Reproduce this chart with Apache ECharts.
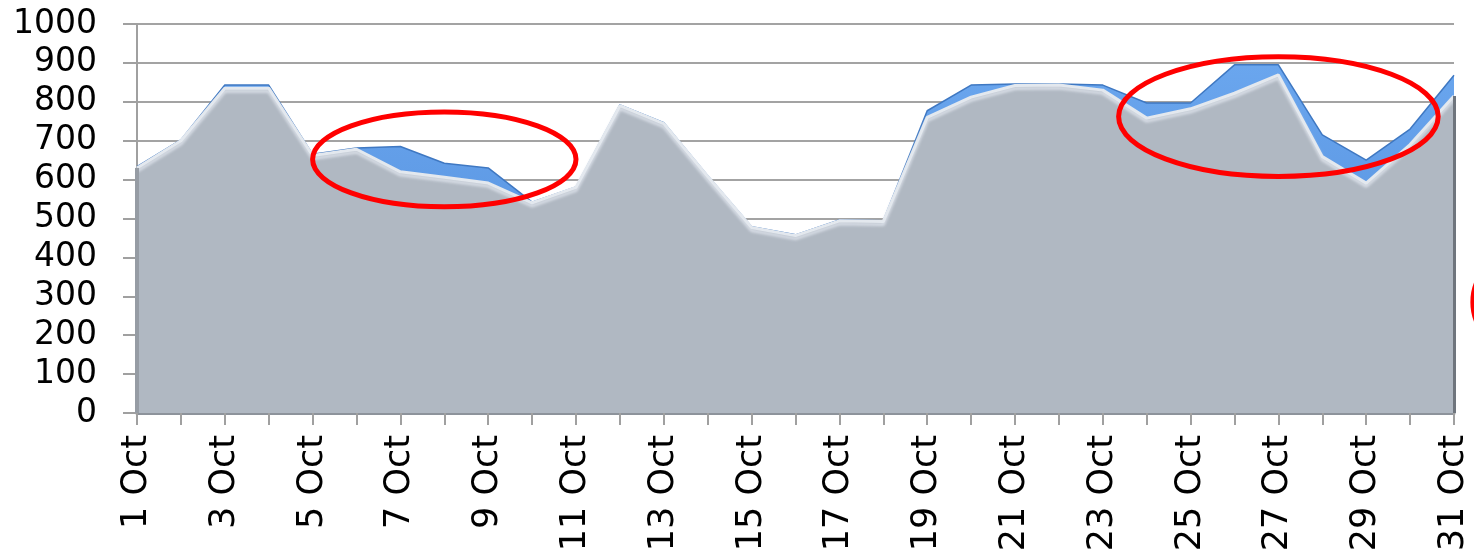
<!DOCTYPE html>
<html>
<head>
<meta charset="utf-8">
<script src="https://cdn.jsdelivr.net/npm/echarts@6/dist/echarts.min.js"></script>
<style>
  html, body { margin: 0; padding: 0; background: #ffffff; }
  #chart { width: 1474px; height: 557px; }
</style>
</head>
<body>
<div id="chart"></div>
<script>
// ---- data ----
const categories = ['1 Oct','2 Oct','3 Oct','4 Oct','5 Oct','6 Oct','7 Oct','8 Oct','9 Oct','10 Oct',
  '11 Oct','12 Oct','13 Oct','14 Oct','15 Oct','16 Oct','17 Oct','18 Oct','19 Oct','20 Oct',
  '21 Oct','22 Oct','23 Oct','24 Oct','25 Oct','26 Oct','27 Oct','28 Oct','29 Oct','30 Oct','31 Oct'];
const blueValues = [633, 702, 843, 843, 665, 681, 685, 642, 630, 542, 581, 792, 746, 610, 479, 458, 496, 494,
  777, 843, 846, 846, 843, 797, 797, 895, 895, 715, 650, 730, 868];
const grayValues = [630, 700, 835, 835, 662, 678, 620, 606, 591, 540, 580, 790, 744, 608, 477, 456, 494, 492,
  760, 812, 842, 843, 830, 758, 782, 822, 869, 659, 591, 690, 815];
const yTicks = { min: 0, max: 1000, interval: 100 };
// annotation ellipses in data units: [centre category index, centre value, half-width in days, half-height in value]
const annotations = [
  [7, 652, 3.0, 122],
  [26, 762, 3.64, 154],
  [31.57, 285, 1.14, 128]
];

const chart = echarts.init(document.getElementById('chart'), null, { renderer: 'canvas' });
const FONT = 'DejaVu Sans';
const option = {
  animation: false,
  backgroundColor: '#ffffff',
  grid: { left: 137, right: 20, top: 24, bottom: 144, containLabel: false },
  xAxis: {
    type: 'category',
    data: categories,
    boundaryGap: false,
    axisLine: { show: true, lineStyle: { color: '#8d939b', width: 3 } },
    axisTick: { show: true, interval: 0, length: 12, lineStyle: { color: '#a0a0a0', width: 2 } },
    axisLabel: { interval: 1, rotate: 90, margin: 22, fontSize: 35, fontFamily: FONT, color: '#000000' },
    splitLine: { show: false }
  },
  yAxis: {
    type: 'value',
    min: yTicks.min, max: yTicks.max, interval: yTicks.interval,
    axisLine: { show: true, lineStyle: { color: '#a0a0a0', width: 2 } },
    axisTick: { show: true, length: 14, lineStyle: { color: '#a0a0a0', width: 2 } },
    axisLabel: { margin: 40, fontSize: 33, fontFamily: FONT, color: '#000000', formatter: v => String(v) },
    splitLine: { show: true, lineStyle: { color: '#a3a3a3', width: 2 } }
  },
  series: [
    {
      name: 'Blue',
      type: 'line',
      data: blueValues,
      symbol: 'none',
      lineStyle: { color: '#3f78c2', width: 1.5 },
      areaStyle: {
        opacity: 1,
        color: new echarts.graphic.LinearGradient(0, 0, 0, 1, [
          { offset: 0, color: '#6aa6ee' },
          { offset: 1, color: '#4d88d8' }
        ])
      },
      z: 2
    },
    {
      name: 'Gray',
      type: 'line',
      data: grayValues,
      symbol: 'none',
      lineStyle: {
        color: '#e3e8ee', width: 3,
        shadowColor: 'rgba(222,228,236,0.95)', shadowBlur: 3, shadowOffsetY: 3
      },
      areaStyle: { opacity: 1, color: '#b0b8c2' },
      markLine: {
        silent: true,
        symbol: 'none',
        label: { show: false },
        data: [
          [ { coord: [categories.length - 1, 0], lineStyle: { color: '#6f757d', width: 3, type: 'solid' } },
            { coord: [categories.length - 1, grayValues[grayValues.length - 1]] } ],
          [ { coord: [0, 0], lineStyle: { color: '#969ca4', width: 4, type: 'solid' } },
            { coord: [0, grayValues[0]] } ]
        ]
      },
      z: 3
    }
  ]
};
chart.setOption(option);

// red annotation ellipses positioned through the chart's own scales
function drawAnnotations() {
  const p0 = chart.convertToPixel({ gridIndex: 0 }, [0, 0]);
  const p1 = chart.convertToPixel({ gridIndex: 0 }, [1, 100]);
  const dayPx = p1[0] - p0[0];
  const valPx = p0[1] - p1[1]; // pixels per 100
  const elements = annotations.map(a => {
    const cx = p0[0] + a[0] * dayPx;
    const cy = p0[1] - a[1] / 100 * valPx;
    return {
      type: 'ellipse',
      shape: { cx: cx, cy: cy, rx: a[2] * dayPx, ry: a[3] / 100 * valPx },
      style: { fill: 'none', stroke: '#ff0000', lineWidth: 5 },
      z: 100
    };
  });
  chart.setOption({ graphic: elements });
}
drawAnnotations();
</script>
</body>
</html>
